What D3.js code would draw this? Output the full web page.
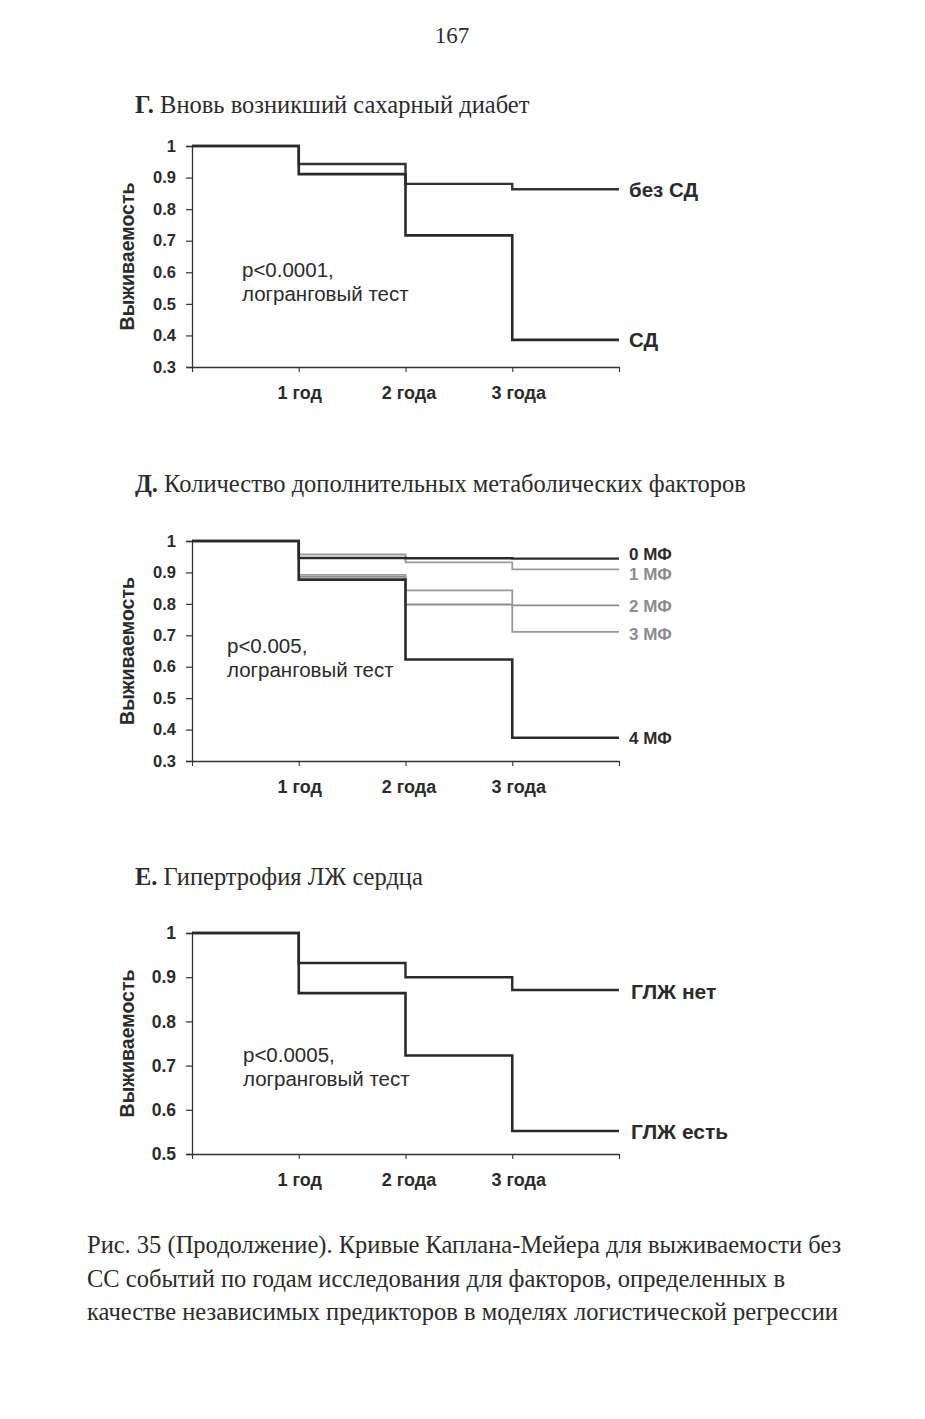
<!DOCTYPE html>
<html>
<head>
<meta charset="utf-8">
<script src="https://d3js.org/d3.v7.min.js"></script>
<style>
    body { margin: 0; background: #fff; }
    svg { display: block; }
    .serif { font-family: "Liberation Serif", "DejaVu Serif", serif; fill: #2b2b2b; }
    .sans { font-family: "Liberation Sans", Arial, sans-serif; fill: #2b2b2b; }
</style>
</head>
<body>
<script>
// годы наблюдения
const years = [0, 1, 2, 3, 4];
const yearTicks = [1, 2, 3];
const yearLabels = ['1 год', '2 года', '3 года'];

// Г. Вновь возникший СД
const gNames = ['без СД', 'СД'];
const gNoDM = [1, 0.943, 0.880, 0.863];
const gDM = [1, 0.911, 0.717, 0.386];
const gTicks = [0.3, 0.4, 0.5, 0.6, 0.7, 0.8, 0.9, 1];

// Д. Количество метаболических факторов
const dNames = ['0 МФ', '1 МФ', '2 МФ', '3 МФ', '4 МФ'];
const d0 = [1, 0.946, 0.945, 0.944];
const d1 = [1, 0.957, 0.932, 0.910];
const d2 = [1, 0.886, 0.798, 0.795];
const d3v = [1, 0.892, 0.843, 0.711];
const d4 = [1, 0.877, 0.623, 0.374];
const dTicks = [0.3, 0.4, 0.5, 0.6, 0.7, 0.8, 0.9, 1];

// Е. Гипертрофия ЛЖ
const eNames = ['ГЛЖ нет', 'ГЛЖ есть'];
const eNo = [1, 0.932, 0.900, 0.871];
const eYes = [1, 0.864, 0.723, 0.552];
const eTicks = [0.5, 0.6, 0.7, 0.8, 0.9, 1];

const svg = d3.select('body').append('svg').attr('width', 925).attr('height', 1419);

// номер страницы
svg.append('text').attr('class', 'serif').attr('x', 452).attr('y', 43)
    .attr('text-anchor', 'middle').style('font-size', '23px').text('167');

const panels = [
    {
        letter: 'Г.', title: ' Вновь возникший сахарный диабет', titleY: 113,
        top: 146, bottom: 367, ticks: gTicks, domain: [0.3, 1],
        p: ['p<0.0001,', 'логранговый тест'], px: 242, py: 277,
        series: [
            {name: gNames[0], values: gNoDM, color: '#333', width: 2.4, labelColor: '#2b2b2b', dy: 1},
            {name: gNames[1], values: gDM, color: '#2a2a2a', width: 2.6, labelColor: '#2b2b2b', dy: 0}
        ],
        labelX: 629, labelSize: 20.5, tickSize: 16.5
    },
    {
        letter: 'Д.', title: ' Количество дополнительных метаболических факторов', titleY: 492,
        top: 541, bottom: 761, ticks: dTicks, domain: [0.3, 1],
        p: ['p<0.005,', 'логранговый тест'], px: 227, py: 653,
        series: [
            {name: dNames[1], values: d1, color: '#9a9a9a', width: 1.8, labelColor: '#8c8c8c', dy: 5},
            {name: dNames[2], values: d2, color: '#8e8e8e', width: 1.8, labelColor: '#8c8c8c', dy: 1},
            {name: dNames[3], values: d3v, color: '#999', width: 1.8, labelColor: '#8c8c8c', dy: 2},
            {name: dNames[0], values: d0, color: '#2a2a2a', width: 2.4, labelColor: '#2b2b2b', dy: -5},
            {name: dNames[4], values: d4, color: '#2a2a2a', width: 2.6, labelColor: '#2b2b2b', dy: 0}
        ],
        labelX: 629, labelSize: 17, tickSize: 16.5
    },
    {
        letter: 'Е.', title: ' Гипертрофия ЛЖ сердца', titleY: 885,
        top: 933, bottom: 1154, ticks: eTicks, domain: [0.5, 1],
        p: ['p<0.0005,', 'логранговый тест'], px: 243, py: 1062,
        series: [
            {name: eNames[0], values: eNo, color: '#2a2a2a', width: 2.4, labelColor: '#2b2b2b', dy: 2},
            {name: eNames[1], values: eYes, color: '#2a2a2a', width: 2.6, labelColor: '#2b2b2b', dy: 1}
        ],
        labelX: 631, labelSize: 21, tickSize: 17.5
    }
];

const x = d3.scaleLinear().domain([0, 4]).range([192, 619]);
const labelShift = [1, 3.5, 6.5];

panels.forEach(pn => {
    const y = d3.scaleLinear().domain(pn.domain).range([pn.bottom, pn.top]);
    const g = svg.append('g');

    // заголовок
    const t = g.append('text').attr('class', 'serif').attr('x', 135).attr('y', pn.titleY)
        .style('font-size', '24.5px');
    t.append('tspan').style('font-weight', 'bold').text(pn.letter);
    t.append('tspan').text(pn.title);

    // ось Y
    const yAxis = g.append('g').attr('transform', `translate(${x(0)},0)`)
        .call(d3.axisLeft(y).tickValues(pn.ticks).tickSize(6).tickPadding(10)
            .tickFormat(d => d === 1 ? '1' : d3.format('.1f')(d)));
    yAxis.select('.domain').attr('stroke', '#333').attr('stroke-width', 1.3);
    yAxis.selectAll('.tick line').attr('stroke', '#333').attr('stroke-width', 1.2);
    yAxis.selectAll('.tick text').attr('class', 'sans').style('font-size', pn.tickSize + 'px')
        .style('font-weight', 'bold').attr('fill', '#2b2b2b');

    // ось X
    const xAxis = g.append('g').attr('transform', `translate(0,${pn.bottom})`)
        .call(d3.axisBottom(x).tickValues(years).tickSize(5).tickSizeOuter(0).tickFormat(''));
    xAxis.select('.domain').attr('stroke', '#333').attr('stroke-width', 1.3);
    xAxis.selectAll('.tick line').attr('stroke', '#333').attr('stroke-width', 1.1);

    g.selectAll('text.xl').data(yearTicks).enter().append('text')
        .attr('class', 'sans xl').attr('x', (d, i) => x(d) + labelShift[i]).attr('y', pn.bottom + 32)
        .attr('text-anchor', 'middle').style('font-size', '18px').style('font-weight', 'bold')
        .text((d, i) => yearLabels[i]);

    // подпись оси Y
    g.append('text').attr('class', 'sans')
        .attr('transform', `translate(134,${(pn.top + pn.bottom) / 2}) rotate(-90)`)
        .attr('text-anchor', 'middle').style('font-size', '19.5px').style('font-weight', 'bold')
        .text('Выживаемость');

    // кривые
    const line = d3.line().curve(d3.curveStepAfter).x(d => x(d[0])).y(d => y(d[1]));
    pn.series.forEach(s => {
        const pts = years.map(yr => [yr, s.values[Math.min(yr, s.values.length - 1)]]);
        g.append('path').datum(pts).attr('d', line).attr('fill', 'none')
            .attr('stroke', s.color).attr('stroke-width', s.width);
        g.append('text').attr('class', 'sans').attr('x', pn.labelX)
            .attr('y', y(s.values[s.values.length - 1]) + s.dy).attr('dy', '0.35em')
            .style('font-size', pn.labelSize + 'px').style('font-weight', 'bold')
            .style('fill', s.labelColor).text(s.name);
    });

    // p-значение
    g.selectAll('text.pv').data(pn.p).enter().append('text').attr('class', 'sans pv')
        .attr('x', pn.px).attr('y', (d, i) => pn.py + i * 24)
        .style('font-size', '20.5px').text(d => d);
});

// подпись рисунка
const caption = [
    'Рис. 35 (Продолжение). Кривые Каплана-Мейера для выживаемости без',
    'СС событий по годам исследования для факторов, определенных в',
    'качестве независимых предикторов в моделях логистической регрессии'
];
svg.selectAll('text.cap').data(caption).enter().append('text').attr('class', 'serif cap')
    .attr('x', 87).attr('y', (d, i) => 1253 + i * 33.5)
    .style('font-size', '24.5px').text(d => d);
</script>
</body>
</html>
